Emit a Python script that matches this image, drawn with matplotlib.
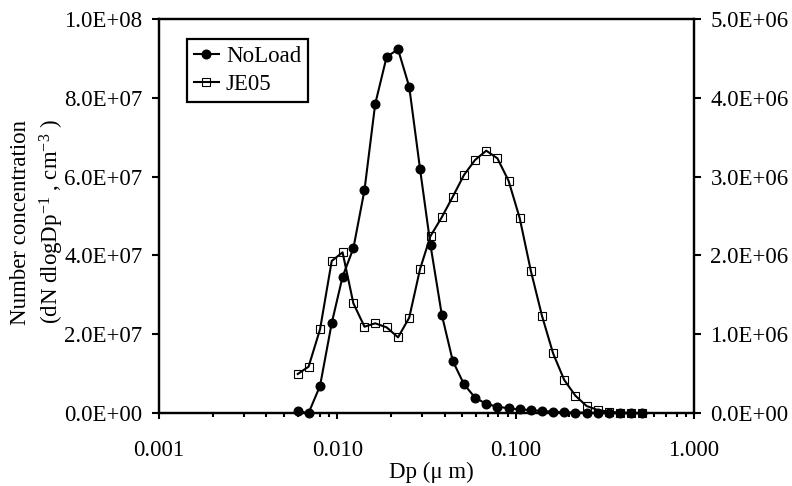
import numpy as np
import matplotlib
matplotlib.use("Agg")
import matplotlib.pyplot as plt
from matplotlib.ticker import FixedLocator, FuncFormatter, LogLocator, NullFormatter

plt.rcParams['font.family'] = ['Liberation Serif', 'DejaVu Serif']
plt.rcParams['font.size'] = 16.5
plt.rcParams['mathtext.fontset'] = 'custom'
plt.rcParams['mathtext.rm'] = 'Liberation Serif'
plt.rcParams['mathtext.it'] = 'Liberation Serif:italic'
plt.rcParams['mathtext.default'] = 'regular'

# ---- data ----
dp = [0.0060, 0.0069, 0.0080, 0.0093, 0.0107, 0.0123, 0.0142, 0.0163, 0.0189, 0.0219,
      0.0253, 0.0291, 0.0333, 0.0385, 0.0444, 0.0513, 0.0592, 0.0684, 0.0790, 0.0912,
      0.1053, 0.1216, 0.1404, 0.1621, 0.1872, 0.2162, 0.2497, 0.2883, 0.3330, 0.3845,
      0.4440, 0.5127]
noload = [0.4e6, 0.0, 6.9e6, 22.8e6, 34.6e6, 41.8e6, 56.6e6, 78.4e6, 90.4e6, 92.3e6,
          82.8e6, 61.9e6, 42.6e6, 25.0e6, 13.2e6, 7.3e6, 3.9e6, 2.3e6, 1.6e6, 1.2e6,
          0.9e6, 0.76e6, 0.5e6, 0.35e6, 0.2e6, 0.1e6, 0.1e6, 0.05e6, 0.02e6, 0.01e6,
          0.0, 0.0]
je05 = [0.495e6, 0.588e6, 1.062e6, 1.929e6, 2.039e6, 1.392e6, 1.095e6, 1.138e6, 1.087e6, 0.960e6,
        1.21e6, 1.827e6, 2.246e6, 2.483e6, 2.745e6, 3.020e6, 3.211e6, 3.329e6, 3.232e6, 2.948e6,
        2.475e6, 1.806e6, 1.235e6, 0.757e6, 0.419e6, 0.220e6, 0.089e6, 0.038e6, 0.015e6, 0.005e6,
        0.0, 0.0]
series_names = ["NoLoad", "JE05"]
left_ticks = [0, 2e7, 4e7, 6e7, 8e7, 1e8]
right_ticks = [0, 1e6, 2e6, 3e6, 4e6, 5e6]
x_ticks = [0.001, 0.01, 0.1, 1.0]

W, H = 792, 486
fig = plt.figure(figsize=(W / 100, H / 100), dpi=100)
L, R, T, B = 159, 694, 19, 413
ax = fig.add_axes([L / W, (H - B) / H, (R - L) / W, (B - T) / H])
ax2 = ax.twinx()

lw = 1.5
l1, = ax.plot(dp, noload, color='black', lw=lw, marker='o', ms=6.2,
              clip_on=False, zorder=3, label=series_names[0])
l2, = ax2.plot(dp, je05, color='black', lw=lw, marker='s', ms=6.2, mfc='none', mec='black',
               mew=0.8, clip_on=False, zorder=3, label=series_names[1])

ax.set_xscale('log')
ax.set_xlim(0.001, 1.0)
ax.set_ylim(0, 1e8)
ax2.set_ylim(0, 5e6)

ax.xaxis.set_major_locator(FixedLocator(x_ticks))
ax.xaxis.set_major_formatter(FuncFormatter(lambda v, p: f"{v:.3f}"))
ax.xaxis.set_minor_locator(LogLocator(base=10, subs=np.arange(2, 10), numticks=20))
ax.xaxis.set_minor_formatter(NullFormatter())

ax.yaxis.set_major_locator(FixedLocator(left_ticks))
ax.yaxis.set_major_formatter(FuncFormatter(lambda v, p: f"{v:.1E}"))
ax2.yaxis.set_major_locator(FixedLocator(right_ticks))
ax2.yaxis.set_major_formatter(FuncFormatter(lambda v, p: f"{v:.1E}"))

for a in (ax, ax2):
    for s in a.spines.values():
        s.set_linewidth(1.6)
ax.tick_params(axis='x', which='major', direction='out', length=4.5, width=1.5, pad=15)
ax.tick_params(axis='x', which='minor', direction='out', length=3, width=1.5)
ax.tick_params(axis='y', which='major', direction='out', length=4.8, width=1.5, pad=7)
ax2.tick_params(axis='y', which='major', direction='out', length=4.8, width=1.5, pad=7)

fig.text(38 / W, 1 - 222 / H,
         "Number concentration\n(dN dlogDp$^{-1}$ , cm$^{-3}$ )",
         rotation=90, ha='center', va='center', multialignment='center', linespacing=1.3)
fig.text(431 / W, 1 - 472 / H, "Dp (\u03bc m)", ha='center', va='center')

leg = ax2.legend([l1, l2], series_names, loc='upper left',
                 bbox_to_anchor=((187 - L) / (R - L), (B - 39) / (B - T)),
                 frameon=True, fancybox=False, edgecolor='black', framealpha=1,
                 handlelength=1.1, handletextpad=0.3, borderpad=0.3,
                 labelspacing=0.3, borderaxespad=0)
leg.get_frame().set_linewidth(1.6)

fig.savefig("out.png", dpi=100)
